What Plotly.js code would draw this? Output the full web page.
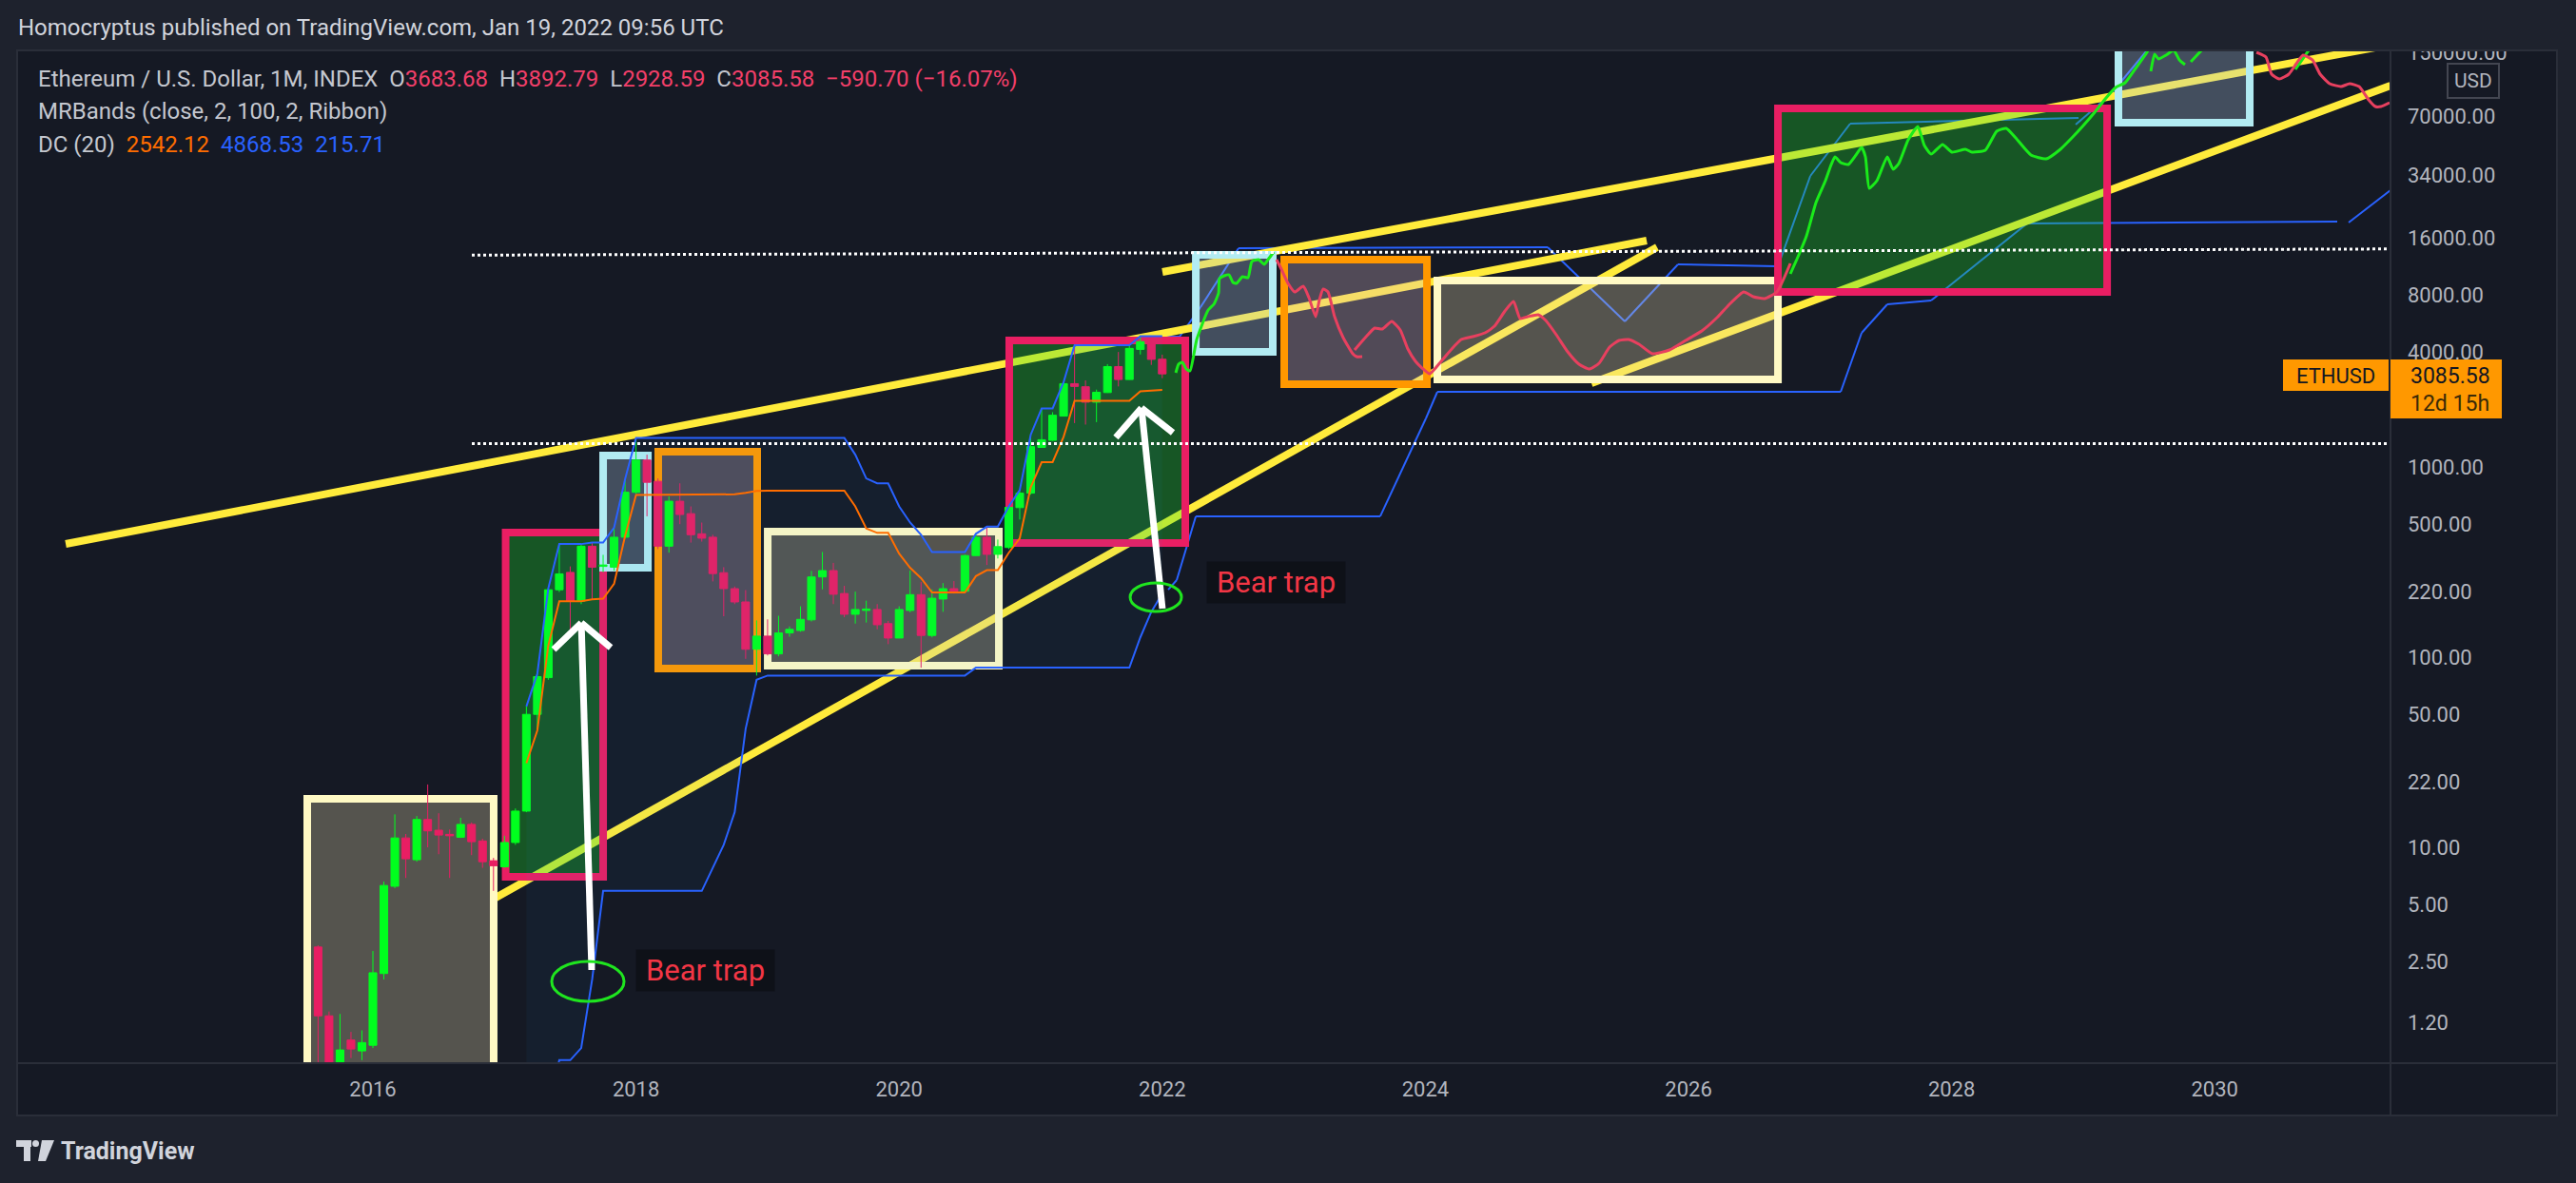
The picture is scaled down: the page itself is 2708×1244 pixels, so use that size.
<!DOCTYPE html>
<html>
<head>
<meta charset="utf-8">
<script src="https://cdn.plot.ly/plotly-3.0.1.min.js"></script>
<style>
html,body{margin:0;padding:0;background:#1e222d;}
#chart{width:2708px;height:1244px;}
</style>
</head>
<body>
<div id="chart"></div>
<script>
// ===================== DATA =====================
// Monthly ETHUSD candles
const months = [
 '2015-08','2015-09','2015-10','2015-11','2015-12',
 '2016-01','2016-02','2016-03','2016-04','2016-05','2016-06','2016-07','2016-08','2016-09','2016-10','2016-11','2016-12',
 '2017-01','2017-02','2017-03','2017-04','2017-05','2017-06','2017-07','2017-08','2017-09','2017-10','2017-11','2017-12',
 '2018-01','2018-02','2018-03','2018-04','2018-05','2018-06','2018-07','2018-08','2018-09','2018-10','2018-11','2018-12',
 '2019-01','2019-02','2019-03','2019-04','2019-05','2019-06','2019-07','2019-08','2019-09','2019-10','2019-11','2019-12',
 '2020-01','2020-02','2020-03','2020-04','2020-05','2020-06','2020-07','2020-08','2020-09','2020-10','2020-11','2020-12',
 '2021-01','2021-02','2021-03','2021-04','2021-05','2021-06','2021-07','2021-08','2021-09','2021-10','2021-11','2021-12',
 '2022-01'];
const open = [
 2.99,1.30,0.72,0.97,0.85,
 0.91,2.17,6.24,11.2,8.6,14.0,12.3,11.7,11.3,13.2,10.8,8.5,
 7.9,10.6,15.5,50,78,226,279,197,383,300,297,427,
 735,1087,840,383,660,568,445,427,278,229,195,110,
 129,104,134,138,157,264,285,216,168,176,178,150,
 126,176,213,130,202,229,222,342,427,347,377,611,
 728,1266,1380,1850,2740,2640,2190,2460,3370,2880,4150,4420,
 3683.68];
const high = [
 3.05,1.37,1.33,1.07,1.09,
 2.85,6.6,14.9,11.75,14.6,21.4,15.1,12.4,14.3,13.5,11.1,8.8,
 11.5,16.0,55,82,230,393,300,392,400,345,480,860,
 1420,1160,870,700,820,620,510,440,297,235,225,156,
 158,165,145,185,284,357,313,237,221,198,190,155,
 185,285,248,227,245,251,346,445,485,415,620,755,
 1475,2030,1940,2790,4360,2850,2550,3470,4020,4360,4868.53,4780,
 3892.79];
const low = [
 0.42,0.55,0.42,0.78,0.76,
 0.88,2.02,6.1,6.9,8.4,10.0,9.2,6.9,11.2,9.1,7.8,5.9,
 7.8,10.3,15.3,42,76,220,135,190,201,280,285,420,
 720,550,370,354,500,400,405,250,164,190,98,80,
 102,101,128,136,154,227,190,162,150,152,140,117,
 126,172,88,127,173,215.71,221,340,305,330,370,529,
 715,1260,1370,1840,1700,1670,1720,2450,2650,2870,3900,3440,
 2928.59];
const close = [
 1.30,0.72,0.86,0.87,0.94,
 2.19,6.3,11.2,8.7,14.0,12.2,11.6,11.5,13.2,10.7,8.4,8.0,
 10.6,15.5,50,79,226,274,197,383,297,305,427,736,
 1087,830,383,660,562,440,422,275,229,195,110,129,
 104,134,140,158,264,285,214,168,178,179,148,126,
 178,213,130,204,229,222,342,427,347,381,613,728,
 1279,1390,1870,2740,2650,2190,2470,3370,2880,4200,4560,3676.28,
 3085.58];

const priceTicks = [1.2,2.5,5,10,22,50,100,220,500,1000,2000,4000,8000,16000,34000,70000,150000];
const yearTicks  = [2016,2018,2020,2022,2024,2026,2028,2030];

// ---- drawings (decimal year, price) ----
const boxKind  = ['cream','pink','blue','orange','cream','pink','blue','orange','cream','pink','blue'];
const boxStart = [2015.501,2017.009,2017.750,2018.169,2019.001,2020.837,2022.255,2022.927,2024.091,2026.680,2029.268];
const boxEnd   = [2016.918,2017.750,2018.090,2018.921,2020.758,2022.175,2022.840,2024.012,2026.680,2029.182,2030.266];
const boxLow   = [0.5,7.0,295,87.1,90.2,398,4027,2723,2884,8318,64565];
const boxHigh  = [18.0,452,1148,1202,457,4624,13032,12303,9550,76736,250000];

const trendStartX = [2013.665,2022.001,2016.933,2025.262];
const trendStartP = [393.6,10593,5.43,2754];
const trendEndX   = [2025.682,2031.336,2025.761,2031.336];
const trendEndP   = [15488,165959,14289,101158];

const levelStartX = [2016.752,2016.752];
const levelStartP = [12990,1326];
const levelEndX   = [2031.336,2031.336];
const levelEndP   = [13996,1326];

const arrowTipX   = [2017.584,2021.842];
const arrowTipP   = [151.4,2042];
const arrowTailX  = [2017.663,2022.001];
const arrowTailP  = [2.265,179.9];
const arrowLeftX  = [2017.374,2021.647];
const arrowLeftP  = [109.6,1429];
const arrowRightX = [2017.808,2022.081];
const arrowRightP = [112.2,1514];

const ringX0 = [2017.359,2021.756];
const ringX1 = [2017.909,2022.146];
const ringP0 = [1.549,173.8];
const ringP1 = [2.512,245.5];

const noteText = ['Bear trap','Bear trap'];
const noteX    = [2018.529,2022.862];
const noteP    = [2.25,248];

// projected channel (blue) lines
const futUpX = [2022.009,2022.132,2022.291,2022.580,2024.930,2025.516,2025.920,2026.672,2026.701,2026.926,2027.229,2028.965,null,2028.943,2029.203,2029.485];
const futUpP = [4842,4842,6918,14125,14289,5821,11614,11350,12445,33884,63826,68391,null,63096,90157,154882];
const futLoX = [2022.045,2022.110,2022.255,2023.657,2024.004,2024.091,2027.157,2027.316,2027.511,2027.844,2028.574,2030.931,null,2031.018,2031.336];
const futLoP = [226,254,550,550,1799,2483,2483,5070,7161,7499,19055,19498,null,19275,28510];

// projected price paths
const ghostGreen1X = [2022.103,2022.124,2022.153,2022.182,2022.211,2022.262,2022.349,2022.392,2022.428,2022.435,2022.471,2022.508,2022.537,2022.565,2022.609,2022.652,2022.681,2022.732,2022.775,2022.804,2022.847];
const ghostGreen1P = [3126,3467,3548,3273,3199,4677,6683,7161,8222,9772,10116,10233,9333,9226,10000,9886,12023,12303,11614,12303,13490];
const ghostRed1X = [2022.869,2022.905,2022.956,2023.007,2023.072,2023.115,2023.166,2023.195,2023.223,2023.260,2023.310,2023.375,2023.448,2023.477,2023.520,null,
 2023.462,2023.556,2023.614,2023.672,2023.744,2023.809,2023.867,2023.925,2023.975,2024.033,2024.120,2024.200,2024.272,2024.359,2024.453,2024.525,2024.605,2024.670,2024.720,2024.778,2024.858,2024.915,2024.995,2025.082,2025.168,2025.248,2025.320,2025.400,2025.472,2025.544,2025.624,2025.725,2025.855,2025.978,2026.101,2026.224,2026.311,2026.419,2026.492,2026.578,2026.672,2026.774];
const ghostRed1P = [12303,10965,9226,8318,8913,7762,6166,7586,8610,8318,6166,4786,3936,3802,3802,null,
 4121,4898,5370,5309,5821,5248,4169,3589,3311,3090,3589,4169,4677,4842,5070,5495,6607,7413,6026,6166,6310,5888,4955,4027,3467,3273,3508,4266,4624,4677,4416,3936,4121,4624,5188,6166,7161,8318,7852,7674,8318,11749];
const ghostGreen2X = [2026.774,2026.832,2026.897,2026.969,2027.041,2027.085,2027.114,2027.157,2027.215,2027.273,2027.316,2027.345,2027.374,2027.432,2027.511,2027.555,2027.598,2027.670,2027.743,2027.793,2027.844,2027.931,2028.003,2028.104,2028.155,2028.256,2028.343,2028.415,2028.487,2028.603,2028.719,2028.827,2028.914,2029.001,2029.088,2029.174,2029.247,2029.319,2029.398,2029.485,2029.521,null,
 2029.514,2029.543,2029.572,2029.630,2029.688,2029.731,2029.774,null,2029.818,2029.919,null,2030.613,2030.714];
const ghostGreen2P = [10351,12735,16406,24547,31989,38905,42658,39811,38905,43652,47863,42658,29174,31989,42658,36728,39355,52481,61660,48978,44157,49545,45186,46774,45186,46238,58210,60256,53703,43652,41687,46774,53703,62373,73282,87096,98855,104713,124451,151356,169824,null,
 120226,147911,139637,146218,154882,138038,130317,null,134896,160325,null,123027,154882];
const ghostRed2X = [2030.317,2030.389,2030.432,2030.490,2030.563,2030.620,2030.671,2030.743,2030.801,2030.874,2030.960,2031.025,2031.098,2031.170,2031.221,2031.264,2031.329];
const ghostRed2P = [151356,142889,116145,109648,116145,131826,146218,138038,116145,103514,100000,103514,100000,85114,78524,78524,82224];

// ===================== STYLE / LAYOUT =====================
const FONT = 'Roboto, "Noto Sans", "DejaVu Sans", sans-serif';
const PANEL = '#151924', OUTER = '#1e222d', BORDER = '#2a2e39';
const UP = '#00ff1e', DOWN = '#e91e63', BLUE = '#2962ff', ORANGE = '#ff6d00';
const PLOT_L = 18, PLOT_R = 2513, PLOT_T = 54, PLOT_B = 1118;
const X0 = 2013.2957, X1 = 2031.336, Y0 = -0.135, Y1 = 5.185;
const PX = px => (px - PLOT_L) / (PLOT_R - PLOT_L);
const PY = py => (PLOT_B - py) / (PLOT_B - PLOT_T);
const TX = t => (t - X0) / (X1 - X0);
const TY = p => (Math.log10(p) - Y0) / (Y1 - Y0);

const tm = months.map(m => { const [y, mo] = m.split('-').map(Number); return y + (mo - 1) / 12; });

// Donchian channel (20)
const DC_LEN = 20;
const dcX = [], dcUp = [], dcLo = [], dcMid = [];
for (let i = DC_LEN - 1; i < tm.length; i++) {
  let hi = -Infinity, lo = Infinity;
  for (let j = i - DC_LEN + 1; j <= i; j++) { hi = Math.max(hi, high[j]); lo = Math.min(lo, low[j]); }
  dcX.push(tm[i]); dcUp.push(hi); dcLo.push(lo); dcMid.push((hi + lo) / 2);
}

const boxStyle = {
  cream:  {line: '#fff9c4', fill: 'rgba(235,223,177,0.30)'},
  pink:   {line: '#e91e63', fill: 'rgba(30,230,40,0.30)'},
  blue:   {line: '#b2ebf2', fill: 'rgba(175,203,227,0.30)'},
  orange: {line: '#ff9800', fill: 'rgba(222,189,204,0.30)'}
};

const shapes = [];
// panel background
shapes.push({type:'rect', xref:'paper', yref:'paper', x0:PX(18), x1:PX(2688), y0:PY(1173), y1:PY(53),
  fillcolor:PANEL, line:{width:0}, layer:'below'});

function segs(xs, ps, line, layer) {
  for (let i = 0; i < xs.length - 1; i++) {
    if (xs[i] == null || xs[i + 1] == null) continue;
    shapes.push({type:'line', xref:'x', yref:'y', x0:xs[i], y0:ps[i], x1:xs[i + 1], y1:ps[i + 1], line, layer});
  }
}
// projected blue channel (under boxes)
segs(futUpX, futUpP, {color:BLUE, width:2}, 'below');
segs(futLoX, futLoP, {color:BLUE, width:2}, 'below');
// yellow trend lines
for (let i = 0; i < trendStartX.length; i++) {
  shapes.push({type:'line', xref:'x', yref:'y', x0:trendStartX[i], y0:trendStartP[i], x1:trendEndX[i], y1:trendEndP[i],
    line:{color:'#ffeb3b', width:8}, layer:'below'});
}
// boxes
for (let i = 0; i < boxKind.length; i++) {
  const s = boxStyle[boxKind[i]];
  shapes.push({type:'rect', xref:'x', yref:'y', x0:boxStart[i], x1:boxEnd[i], y0:boxLow[i], y1:boxHigh[i],
    line:{color:s.line, width:8}, fillcolor:s.fill, layer:'below'});
}
// dotted levels
for (let i = 0; i < levelStartX.length; i++) {
  shapes.push({type:'line', xref:'x', yref:'y', x0:levelStartX[i], y0:levelStartP[i], x1:levelEndX[i], y1:levelEndP[i],
    line:{color:'#ffffff', width:3, dash:'dot'}, layer:'above'});
}
// arrows
for (let i = 0; i < arrowTipX.length; i++) {
  const ln = {color:'#ffffff', width:7};
  shapes.push({type:'line', xref:'x', yref:'y', x0:arrowTailX[i], y0:arrowTailP[i], x1:arrowTipX[i], y1:arrowTipP[i], line:ln, layer:'above'});
  shapes.push({type:'line', xref:'x', yref:'y', x0:arrowLeftX[i], y0:arrowLeftP[i], x1:arrowTipX[i], y1:arrowTipP[i], line:ln, layer:'above'});
  shapes.push({type:'line', xref:'x', yref:'y', x0:arrowRightX[i], y0:arrowRightP[i], x1:arrowTipX[i], y1:arrowTipP[i], line:ln, layer:'above'});
}
// green rings
for (let i = 0; i < ringX0.length; i++) {
  shapes.push({type:'circle', xref:'x', yref:'y', x0:ringX0[i], x1:ringX1[i], y0:ringP0[i], y1:ringP1[i],
    line:{color:'#1fe51f', width:3}, fillcolor:'rgba(0,0,0,0)', layer:'above'});
}
// frame & separators
const pl = (x0, y0, x1, y1, color, width) => shapes.push({type:'line', xref:'paper', yref:'paper',
  x0:PX(x0), y0:PY(y0), x1:PX(x1), y1:PY(y1), line:{color, width}, layer:'above'});
const pr = (x0, y0, x1, y1, fill, line) => shapes.push({type:'rect', xref:'paper', yref:'paper',
  x0:PX(x0), y0:PY(y1), x1:PX(x1), y1:PY(y0), fillcolor:fill, line:line || {width:0}, layer:'above'});
pr(2513, 0, 2708, 53, OUTER);
pl(2513, 53, 2513, 1173, BORDER, 2);
pl(18, 1118, 2688, 1118, BORDER, 2);
shapes.push({type:'rect', xref:'paper', yref:'paper', x0:PX(18), x1:PX(2688), y0:PY(1173), y1:PY(53),
  line:{color:BORDER, width:2}, fillcolor:'rgba(0,0,0,0)', layer:'above'});
// symbol / price labels
pr(2400, 378, 2511, 411, '#ff9800');
pr(2513, 378, 2630, 440, '#ff9800');
pr(2573, 67, 2627, 103, PANEL, {color:'#434651', width:2});
// TradingView logo mark
pr(17, 1199, 33, 1206, '#d1d4dc');
pr(25, 1199, 32, 1221, '#d1d4dc');
shapes.push({type:'circle', xref:'paper', yref:'paper', x0:PX(34), x1:PX(41), y0:PY(1206), y1:PY(1199),
  fillcolor:'#d1d4dc', line:{width:0}, layer:'above'});
shapes.push({type:'path', xref:'paper', yref:'paper', layer:'above', fillcolor:'#d1d4dc', line:{width:0},
  path:`M${PX(44)},${PY(1199)} L${PX(57)},${PY(1199)} L${PX(48)},${PY(1221)} L${PX(40)},${PY(1221)} Z`});

// ---------- annotations ----------
const ann = [];
const txt = (x, y, text, size, color, extra) => ann.push(Object.assign({
  xref:'paper', yref:'paper', x:PX(x), y:PY(y), text, showarrow:false,
  xanchor:'left', yanchor:'middle', font:{family:FONT, size, color}}, extra || {}));

const last = close.length - 1;
const chg = close[last] - close[last - 1];
const pct = chg / close[last - 1] * 100;
const sgn = v => (v < 0 ? '\u2212' : '+') + Math.abs(v).toFixed(2);
const VAL = close[last] < open[last] ? '#f23f69' : '#22ab94';
const sp = '\u00a0\u00a0';
const c = (col, s) => `<span style="color:${col}">${s}</span>`;

txt(17, 29, 'Homocryptus published on TradingView.com, Jan 19, 2022 09:56 UTC', 24, '#d1d4dc');
txt(38, 83, 'Ethereum / U.S. Dollar, 1M, INDEX' + sp +
  'O' + c(VAL, open[last].toFixed(2)) + sp + 'H' + c(VAL, high[last].toFixed(2)) + sp +
  'L' + c(VAL, low[last].toFixed(2)) + sp + 'C' + c(VAL, close[last].toFixed(2)) + sp +
  c(VAL, sgn(chg) + ' (' + sgn(pct) + '%)'), 24, '#c4c7cf');
txt(38, 117, 'MRBands (close, 2, 100, 2, Ribbon)', 24, '#c4c7cf');
const dl = dcX.length - 1;
txt(38, 152, 'DC (20)' + sp + c(ORANGE, dcMid[dl].toFixed(2)) + sp + c(BLUE, dcUp[dl].toFixed(2)) + sp +
  c(BLUE, dcLo[dl].toFixed(2)), 24, '#c4c7cf');

for (let i = 0; i < noteText.length; i++) {
  ann.push({xref:'paper', yref:'paper', x:TX(noteX[i]), y:TY(noteP[i]), text:noteText[i], showarrow:false,
    xanchor:'center', yanchor:'middle', bgcolor:'#0e1118', borderpad:3, width:139, height:37,
    font:{family:FONT, size:31, color:'#f23645'}});
}
txt(2455, 395, 'ETHUSD', 22, '#131722', {xanchor:'center'});
txt(2532, 395, close[last].toFixed(2), 23, '#131722');
txt(2532, 424, '12d 15h', 23, '#3a2a08');
txt(2600, 85, 'USD', 21, '#b2b5be', {xanchor:'center'});
txt(62, 1210, '<b>TradingView</b>', 25, '#d1d4dc');

// ---------- traces ----------
const traces = [
  {type:'candlestick', x:tm, open, high, low, close, hoverinfo:'skip', whiskerwidth:0,
   increasing:{line:{color:UP, width:1}, fillcolor:UP},
   decreasing:{line:{color:DOWN, width:1}, fillcolor:DOWN}, showlegend:false},
  {type:'scatter', mode:'lines', x:dcX, y:dcUp, line:{color:BLUE, width:2}, hoverinfo:'skip'},
  {type:'scatter', mode:'lines', x:dcX, y:dcLo, line:{color:BLUE, width:2}, fill:'tonexty',
   fillcolor:'rgba(33,150,243,0.05)', hoverinfo:'skip'},
  {type:'scatter', mode:'lines', x:dcX, y:dcMid, line:{color:ORANGE, width:2}, hoverinfo:'skip'},
  {type:'scatter', mode:'lines', x:ghostGreen1X, y:ghostGreen1P, line:{color:'#1aeb1a', width:3, shape:'spline', smoothing:0.5}, hoverinfo:'skip'},
  {type:'scatter', mode:'lines', x:ghostRed1X, y:ghostRed1P, line:{color:'#e8405f', width:3, shape:'spline', smoothing:0.5}, hoverinfo:'skip'},
  {type:'scatter', mode:'lines', x:ghostGreen2X, y:ghostGreen2P, line:{color:'#1aeb1a', width:3, shape:'spline', smoothing:0.5}, hoverinfo:'skip'},
  {type:'scatter', mode:'lines', x:ghostRed2X, y:ghostRed2P, line:{color:'#e8405f', width:3, shape:'spline', smoothing:0.5}, hoverinfo:'skip'}
];

const tickFont = {family:FONT, size:22, color:'#b2b5be'};
const layout = {
  width:2708, height:1244,
  margin:{l:PLOT_L, r:2708 - PLOT_R, t:PLOT_T, b:1244 - PLOT_B, pad:0},
  paper_bgcolor:OUTER, plot_bgcolor:PANEL,
  showlegend:false, boxgap:0.3, boxgroupgap:0, hovermode:false,
  xaxis:{type:'linear', range:[X0, X1], tickvals:yearTicks, ticktext:yearTicks.map(String),
    ticks:'', showgrid:false, zeroline:false, showline:false, tickfont:tickFont,
    ticklabelstandoff:12, rangeslider:{visible:false}, fixedrange:true},
  yaxis:{type:'log', side:'right', range:[Y0, Y1], tickvals:priceTicks, ticktext:priceTicks.map(v => v.toFixed(2)),
    ticks:'', showgrid:false, zeroline:false, showline:false, tickfont:tickFont,
    ticklabelstandoff:17, fixedrange:true},
  shapes, annotations:ann
};

Plotly.newPlot('chart', traces, layout, {staticPlot:true, displayModeBar:false});
</script>
</body>
</html>
